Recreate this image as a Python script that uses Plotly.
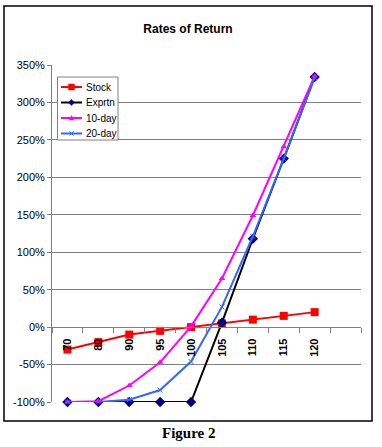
import plotly.graph_objects as go

categories = ["70", "80", "90", "95", "100", "105", "110", "115", "120", " "]
stock = [-30, -20, -10, -5, 0, 5, 10, 15, 20]
exprtn = [-100, -100, -100, -100, -100, 6, 118, 225, 334]
day10 = [-100, -99, -78, -47, 1, 65, 149, 241, 335]
day20 = [-100, -100, -97, -84, -46, 27, 121, 225, 333]
y_ticks = [-100, -50, 0, 50, 100, 150, 200, 250, 300, 350]
y_min, y_max = -100, 350
series_names = ["Stock", "Exprtn", "10-day", "20-day"]

W, H = 382, 447
L, R, T, B = 52, 21, 65, 45
pw, ph = W - L - R, H - T - B

def px_x(x):
    return (x - L) / pw

def px_y(y):
    return (H - B - y) / ph

def path_px(points):
    pts = [f"{px_x(x):.5f},{px_y(y):.5f}" for x, y in points]
    return "M " + " L ".join(pts) + " Z"

styles = [
    dict(line="#FF0000", mk="#FF0000", sym="square", size=8, lsize=6),
    dict(line="#000000", mk="#000080", sym="diamond", size=8, lsize=6),
    dict(line="#FF00FF", mk="#FF00FF", sym="triangle-up", size=6, lsize=5),
    dict(line="#3366FF", mk="#3366FF", sym="x-thin", size=5, lsize=4),
]
data = [stock, exprtn, day10, day20]

fig = go.Figure()
cats = categories[:len(stock)]
for name, vals, st in zip(series_names, data, styles):
    mk = dict(symbol=st["sym"], size=st["size"], color=st["mk"])
    if st["sym"] == "x-thin":
        mk["line"] = dict(color=st["mk"], width=1)
    fig.add_trace(go.Scatter(x=cats, y=vals, name=name, mode="lines+markers",
                             line=dict(color=st["line"], width=2),
                             marker=mk, cliponaxis=False, showlegend=False))

# manual legend (compact like the original)
shapes = [dict(type="rect", xref="paper", yref="paper",
               x0=px_x(4), x1=px_x(372), y0=px_y(421), y1=px_y(6),
               line=dict(color="black", width=1.5), fillcolor="rgba(0,0,0,0)",
               layer="below"),
          dict(type="rect", xref="paper", yref="paper",
               x0=px_x(57.5), x1=px_x(118), y0=px_y(140), y1=px_y(77),
               line=dict(color="#808080", width=1), fillcolor="#FFFFFF",
               opacity=1, layer="above")]
annotations = []
leg_y = [87, 102.5, 118, 133.5]
for name, st, cy in zip(series_names, styles, leg_y):
    shapes.append(dict(type="line", xref="paper", yref="paper",
                       x0=px_x(61), x1=px_x(82), y0=px_y(cy), y1=px_y(cy),
                       line=dict(color=st["line"], width=2), layer="above"))
    cx, s = 71.5, st["lsize"] / 2
    if st["sym"] == "square":
        p = path_px([(cx - s, cy - s), (cx + s, cy - s), (cx + s, cy + s), (cx - s, cy + s)])
        shapes.append(dict(type="path", xref="paper", yref="paper", path=p,
                           fillcolor=st["mk"], line=dict(color=st["mk"], width=0.5), layer="above"))
    elif st["sym"] == "diamond":
        p = path_px([(cx, cy - s), (cx + s, cy), (cx, cy + s), (cx - s, cy)])
        shapes.append(dict(type="path", xref="paper", yref="paper", path=p,
                           fillcolor=st["mk"], line=dict(color=st["mk"], width=0.5), layer="above"))
    elif st["sym"] == "triangle-up":
        p = path_px([(cx, cy - s), (cx + s, cy + s * 0.8), (cx - s, cy + s * 0.8)])
        shapes.append(dict(type="path", xref="paper", yref="paper", path=p,
                           fillcolor=st["mk"], line=dict(color=st["mk"], width=0.5), layer="above"))
    else:
        for (ax, ay, bx, by) in [(cx - s, cy - s, cx + s, cy + s), (cx - s, cy + s, cx + s, cy - s)]:
            shapes.append(dict(type="line", xref="paper", yref="paper",
                               x0=px_x(ax), y0=px_y(ay), x1=px_x(bx), y1=px_y(by),
                               line=dict(color=st["mk"], width=1), layer="above"))
    annotations.append(dict(text=name, xref="paper", yref="paper",
                            x=px_x(83.5), y=px_y(cy), xanchor="left", yanchor="middle",
                            showarrow=False,
                            font=dict(family="Arial, Liberation Sans, sans-serif",
                                      size=10, color="black")))

annotations.append(dict(text="<b>Figure 2</b>", xref="paper", yref="paper",
                        x=px_x(188), y=px_y(433), xanchor="center", yanchor="middle",
                        showarrow=False,
                        font=dict(family="Times New Roman, Liberation Serif, serif",
                                  size=15, color="black")))

fig.update_layout(
    width=W, height=H,
    margin=dict(l=L, r=R, t=T, b=B),
    paper_bgcolor="white", plot_bgcolor="white",
    font=dict(family="Arial, Liberation Sans, sans-serif", size=11, color="black"),
    title=dict(text="<b>Rates of Return</b>", x=(188 / W), xanchor="center",
               y=1 - 29 / H, yanchor="middle",
               font=dict(size=12, color="black")),
    xaxis=dict(type="category", categoryorder="array", categoryarray=categories,
               range=[-0.5, len(categories) - 0.5],
               anchor="free", position=(0 - y_min) / (y_max - y_min),
               showgrid=False, showline=True, linecolor="#808080", linewidth=1,
               ticks="outside", ticklen=5, tickcolor="#808080", tickson="boundaries",
               tickangle=-90, ticklabelstandoff=6,
               tickfont=dict(size=11, color="black", weight="bold"),
               zeroline=False, fixedrange=True, automargin=False),
    yaxis=dict(range=[y_min, y_max], tickmode="array", tickvals=y_ticks,
               ticktext=[f"{v}%" for v in y_ticks],
               showgrid=True, gridcolor="#808080", gridwidth=1,
               showline=True, linecolor="#808080", linewidth=1,
               ticks="outside", ticklen=4, tickcolor="#808080",
               zeroline=False, tickfont=dict(size=11, color="black"),
               automargin=False, fixedrange=True),
    showlegend=False,
    shapes=shapes,
    annotations=annotations,
)

fig.write_html("out.html", config={"displayModeBar": False},
               post_script="document.body.style.margin='0';document.body.style.overflow='hidden';")
